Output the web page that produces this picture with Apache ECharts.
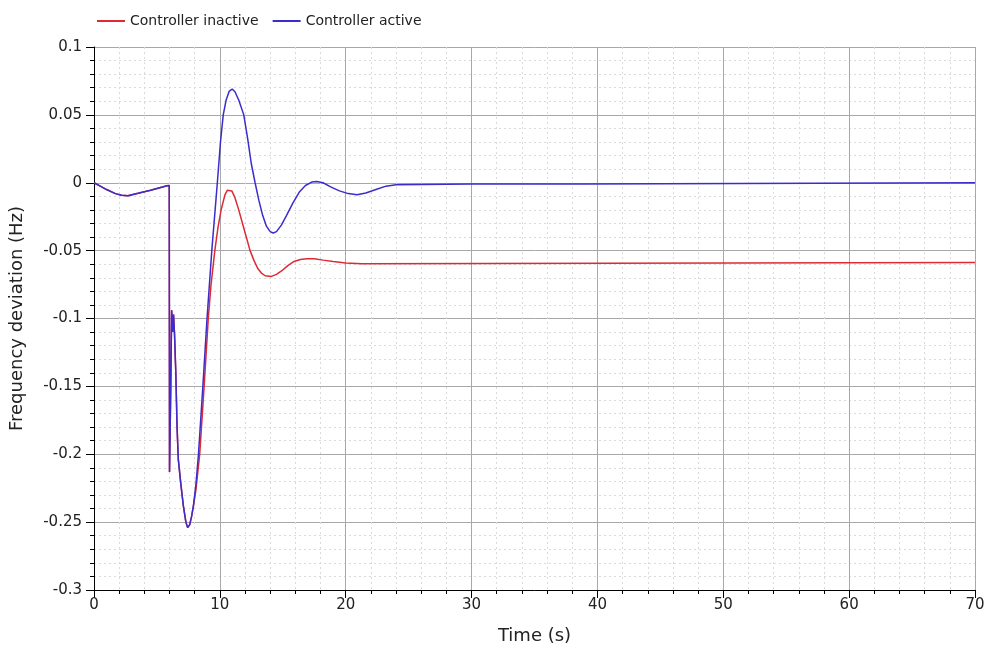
<!DOCTYPE html>
<html>
<head>
<meta charset="utf-8">
<script src="https://cdn.jsdelivr.net/npm/echarts@6/dist/echarts.min.js"></script>
<style>
  html, body { margin: 0; padding: 0; background: #fff; }
  #chart { width: 989px; height: 648px; }
</style>
</head>
<body>
<div id="chart"></div>
<script>
// series names
const seriesNames = ['Controller inactive', 'Controller active'];

// controller active (blue) - time in s, deviation in Hz
const activeTime = [0, 0.5, 1.0, 1.7, 2.2, 2.7, 3.5, 4.5, 5.8, 5.98,
  6.0, 6.1, 6.17, 6.25, 6.32, 6.4, 6.5, 6.6, 6.7, 6.9, 7.1, 7.3, 7.44, 7.6, 7.75, 7.9,
  8.1, 8.3, 8.65, 8.98, 9.36, 9.8, 10.05, 10.27, 10.5, 10.75, 10.98, 11.2, 11.5, 11.9,
  12.2, 12.5, 12.8, 13.1, 13.4, 13.7, 14.0, 14.24, 14.5, 14.9, 15.3, 15.8, 16.3, 16.8,
  17.3, 17.7, 18.2, 18.8, 19.5, 20.2, 20.9, 21.6, 22.4, 23.2, 24, 30, 38.8, 38.9, 70];
const activeVals = [0, -0.0025, -0.005, -0.008, -0.0092, -0.0096, -0.0078, -0.0055, -0.0022, -0.002,
  -0.213, -0.15, -0.094, -0.11, -0.097, -0.112, -0.14, -0.18, -0.204, -0.222, -0.238, -0.25, -0.254, -0.252, -0.246, -0.238,
  -0.222, -0.2, -0.15, -0.1, -0.05, 0, 0.03, 0.05, 0.061, 0.0675, 0.069, 0.067, 0.061, 0.05,
  0.033, 0.014, 0, -0.013, -0.024, -0.032, -0.036, -0.037, -0.036, -0.031, -0.024, -0.015, -0.007, -0.002,
  0.0005, 0.001, 0, -0.003, -0.006, -0.008, -0.0088, -0.0075, -0.005, -0.0025, -0.0015, -0.001, -0.001, 0, 0];

// controller inactive (red)
const inactiveTime = [0, 0.5, 1.0, 1.7, 2.2, 2.7, 3.5, 4.5, 5.8, 5.98,
  6.0, 6.1, 6.17, 6.25, 6.32, 6.4, 6.5, 6.6, 6.7, 6.9, 7.1, 7.3, 7.44, 7.6, 7.75, 7.9,
  8.1, 8.4, 8.75, 9.08, 9.3, 9.6, 9.85, 10.1, 10.4, 10.6, 10.75, 10.95, 11.2, 11.5, 11.8,
  12.1, 12.4, 12.7, 13.0, 13.3, 13.6, 14.1, 14.5, 14.9, 15.4, 15.9, 16.4, 16.9, 17.5,
  18.2, 19, 20, 21.3, 21.4, 70];
const inactiveVals = [0, -0.0025, -0.005, -0.008, -0.0092, -0.0096, -0.0078, -0.0055, -0.0022, -0.002,
  -0.213, -0.15, -0.094, -0.11, -0.097, -0.112, -0.14, -0.18, -0.204, -0.222, -0.238, -0.25, -0.254, -0.252, -0.246, -0.238,
  -0.226, -0.2, -0.15, -0.1, -0.075, -0.05, -0.033, -0.02, -0.009, -0.0055, -0.0045, -0.006, -0.011, -0.02, -0.03,
  -0.04, -0.05, -0.057, -0.063, -0.0665, -0.0685, -0.069, -0.0675, -0.065, -0.061, -0.058, -0.0565, -0.056, -0.056,
  -0.057, -0.058, -0.0592, -0.0596, -0.0587, -0.0587];

const zip = (xs, ys) => xs.map((x, i) => [x, ys[i]]);

const font = 'DejaVu Sans';
const chart = echarts.init(document.getElementById('chart'));

const axisCommon = {
  axisLine: { show: true, onZero: false, lineStyle: { color: '#000', width: 1 } },
  axisTick: { show: true, inside: false, length: 8, lineStyle: { color: '#000' } },
  minorTick: { show: true, splitNumber: 5, length: 4, lineStyle: { color: '#000' } },
  splitLine: { show: true, lineStyle: { color: '#a8a8a8', width: 1 } },
  minorSplitLine: { show: true, lineStyle: { color: '#dadada', type: [2, 3], width: 1 } },
  axisLabel: { color: '#222', fontFamily: font, fontSize: 15 },
  nameTextStyle: { color: '#222', fontFamily: font, fontSize: 18 }
};

chart.setOption({
  animation: false,
  backgroundColor: '#fff',
  legend: {
    left: 92,
    top: 9,
    icon: 'rect',
    itemWidth: 28,
    itemHeight: 2,
    itemGap: 14,
    textStyle: { color: '#222', fontFamily: font, fontSize: 14 },
    data: seriesNames
  },
  grid: { left: 94, right: 14, top: 47, bottom: 58, containLabel: false, outerBoundsMode: 'none' },
  xAxis: Object.assign({}, axisCommon, {
    type: 'value',
    min: 0,
    max: 70,
    interval: 10,
    name: 'Time (s)',
    nameLocation: 'middle',
    nameGap: 37,
    axisLabel: Object.assign({}, axisCommon.axisLabel, { margin: 8 })
  }),
  yAxis: Object.assign({}, axisCommon, {
    type: 'value',
    min: -0.3,
    max: 0.1,
    interval: 0.05,
    name: 'Frequency deviation (Hz)',
    nameLocation: 'middle',
    nameGap: 68,
    axisLabel: Object.assign({}, axisCommon.axisLabel, {
      margin: 12,
      formatter: v => String(+v.toFixed(2))
    })
  }),
  series: [
    {
      name: seriesNames[0],
      type: 'line',
      data: zip(inactiveTime, inactiveVals),
      showSymbol: false,
      symbol: 'none',
      lineStyle: { color: '#dc2b35', width: 1.5 },
      itemStyle: { color: '#dc2b35' },
      z: 2
    },
    {
      name: seriesNames[1],
      type: 'line',
      data: zip(activeTime, activeVals),
      showSymbol: false,
      symbol: 'none',
      lineStyle: { color: '#3b2ccc', width: 1.5 },
      itemStyle: { color: '#3b2ccc' },
      z: 3
    }
  ]
});
</script>
</body>
</html>
